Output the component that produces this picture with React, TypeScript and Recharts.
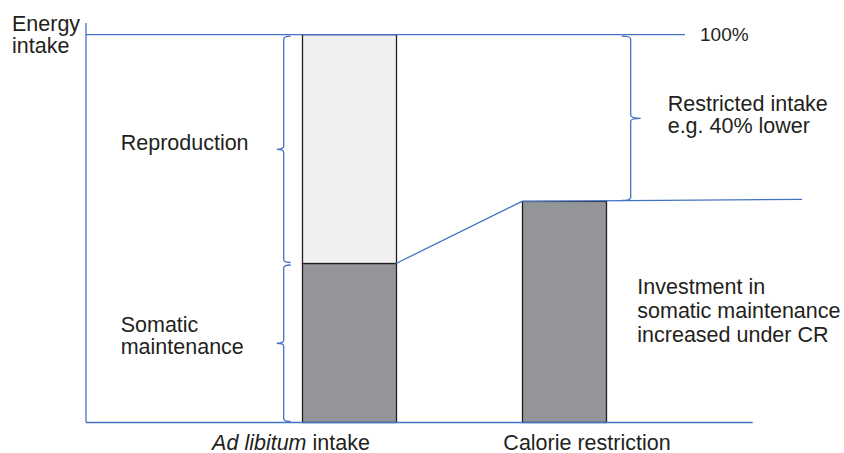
import { ComposedChart, Bar, XAxis, YAxis, ReferenceLine } from 'recharts';

const CATEGORIES = ['Ad libitum intake', 'Calorie restriction'];
const SOMATIC = [41, 57];
const REPRODUCTION = [59, 0];
const FULL_INTAKE = 100;
const Y_MAX = 103;

const data = CATEGORIES.map((name, i) => ({
  name,
  somatic: SOMATIC[i],
  reproduction: REPRODUCTION[i],
}));

const BLUE = '#4472c4';
const INK = '#231f20';
const FONT = '"Liberation Sans", Arial, sans-serif';
const FS = 21.5;
const BAR_W = [94, 84];
const TICK_DX = [-58, 23];

// bar with per-category width, centred on the band
const barShape = (fill: string) => (p: any) => {
  const { x, y, width, height } = p;
  if (!height || height <= 0) return <g />;
  const idx = Math.max(0, CATEGORIES.indexOf(p.payload?.name));
  const w = BAR_W[idx];
  return (
    <rect
      x={x + (width - w) / 2}
      y={y}
      width={w}
      height={height}
      fill={fill}
      stroke={INK}
      strokeWidth={1.3}
    />
  );
};

const textLines = (x: number, y: number, lines: string[], lh: number, anchor = 'start', fs = FS) => (
  <text x={x} y={y} fill={INK} fontSize={fs} fontFamily={FONT} textAnchor={anchor}>
    {lines.map((l, i) => (
      <tspan key={i} x={x} dy={i === 0 ? 0 : lh}>
        {l}
      </tspan>
    ))}
  </text>
);

// straight annotation line, ends nudged in pixels
const lineShape = (dx1: number, dy1: number, dx2: number, dy2: number, label?: (x2: number, y2: number) => any) => (p: any) => {
  const xa = Math.min(p.x1, p.x2);
  const xb = Math.max(p.x1, p.x2);
  const ya = p.x1 <= p.x2 ? p.y1 : p.y2;
  const yb = p.x1 <= p.x2 ? p.y2 : p.y1;
  const X1 = xa + dx1, Y1 = ya + dy1, X2 = xb + dx2, Y2 = yb + dy2;
  return (
    <g>
      <line x1={X1} y1={Y1} x2={X2} y2={Y2} stroke={BLUE} strokeWidth={1.3} />
      {label ? label(X2, Y2) : null}
    </g>
  );
};

// curly brace along a vertical segment; dir -1 = tip points left
const braceShape = (dx: number, dir: number, hook: number, tip: number, lines: string[], tx: number, ty: number, lh: number) => (p: any) => {
  const x = (p.x1 + p.x2) / 2 + dx;
  const ya = Math.min(p.y1, p.y2) + 1.5;
  const yb = Math.max(p.y1, p.y2) - 1;
  const ym = (ya + yb) / 2;
  const r = 3;
  const d = [
    `M ${x - dir * hook} ${ya}`,
    `Q ${x} ${ya} ${x} ${ya + r}`,
    `L ${x} ${ym - r}`,
    `Q ${x} ${ym} ${x + dir * tip} ${ym}`,
    `Q ${x} ${ym} ${x} ${ym + r}`,
    `L ${x} ${yb - r}`,
    `Q ${x} ${yb} ${x - dir * hook} ${yb}`,
  ].join(' ');
  return (
    <g>
      <path d={d} fill="none" stroke={BLUE} strokeWidth={1.3} />
      {textLines(x + tx, ym + ty, lines, lh)}
    </g>
  );
};

const textShape = (dx: number, dy: number, lines: string[], lh: number) => (p: any) => {
  const x = (p.x1 + p.x2) / 2 + dx;
  const ym = (p.y1 + p.y2) / 2 + dy;
  return textLines(x, ym, lines, lh);
};

// axis title placed left of the y axis top
const axisTitleShape = (p: any) => {
  const x = Math.min(p.x1, p.x2);
  const y = (p.y1 + p.y2) / 2;
  return textLines(x - 74, y + 8, ['Energy', 'intake'], 22);
};

const CategoryTick = (props: any) => {
  const { x, y, payload, index } = props;
  const value: string = payload.value;
  const idx = CATEGORIES.indexOf(value);
  const dx = TICK_DX[idx >= 0 ? idx : index] ?? 0;
  const italic = 'Ad libitum';
  return (
    <text x={x + dx} y={y + 27.5} fill={INK} fontSize={FS} fontFamily={FONT} textAnchor="middle">
      {value.startsWith(italic) ? (
        <>
          <tspan fontStyle="italic">{italic}</tspan>
          <tspan>{value.slice(italic.length)}</tspan>
        </>
      ) : (
        value
      )}
    </text>
  );
};

export default function App() {
  const [adLib, cr] = CATEGORIES;
  return (
    <div style={{ position: 'absolute', left: 0, top: 0, width: 844, height: 453, background: '#fff' }}>
      <ComposedChart
        width={844}
        height={453}
        data={data}
        margin={{ top: 23, right: 91.3, bottom: 0, left: 0 }}
        barCategoryGap={0}
      >
        <XAxis
          dataKey="name"
          height={30.5}
          padding={{ left: 155.5, right: 81.2 }}
          axisLine={{ stroke: BLUE, strokeWidth: 1.3 }}
          tickLine={false}
          tickSize={0}
          tickMargin={0}
          tick={<CategoryTick />}
          interval={0}
        />
        <YAxis
          width={86}
          domain={[0, Y_MAX]}
          ticks={[]}
          tick={false}
          tickLine={false}
          axisLine={{ stroke: BLUE, strokeWidth: 1.3 }}
        />
        <Bar dataKey="somatic" stackId="a" barSize={94} shape={barShape('#939598')} isAnimationActive={false} />
        <Bar dataKey="reproduction" stackId="a" barSize={94} shape={barShape('#f0f0f0')} isAnimationActive={false} />

        <ReferenceLine y={Y_MAX} ifOverflow="visible" shape={axisTitleShape} />
        <ReferenceLine
          y={FULL_INTAKE}
          ifOverflow="visible"
          shape={lineShape(0, 0, -67.7, 0, (x2, y2) => textLines(x2 + 15, y2 + 6, ['100%'], 20, 'start', 19))}
        />
        <ReferenceLine
          segment={[{ x: cr, y: SOMATIC[1] }, { x: cr, y: SOMATIC[1] }]}
          ifOverflow="visible"
          shape={lineShape(-42, 0, 238, -2)}
        />
        <ReferenceLine
          segment={[{ x: adLib, y: SOMATIC[0] }, { x: cr, y: SOMATIC[1] }]}
          ifOverflow="visible"
          shape={lineShape(47, 0, -42, 0)}
        />
        <ReferenceLine
          segment={[{ x: adLib, y: FULL_INTAKE }, { x: adLib, y: SOMATIC[0] }]}
          ifOverflow="visible"
          shape={braceShape(-65.3, -1, 7, 7, ['Reproduction'], -163, 1, 22)}
        />
        <ReferenceLine
          segment={[{ x: adLib, y: SOMATIC[0] }, { x: adLib, y: 0 }]}
          ifOverflow="visible"
          shape={braceShape(-65.3, -1, 7, 7, ['Somatic', 'maintenance'], -163, -11, 22)}
        />
        <ReferenceLine
          segment={[{ x: cr, y: FULL_INTAKE }, { x: cr, y: SOMATIC[1] }]}
          ifOverflow="visible"
          shape={braceShape(66.7, 1, 9, 10, ['Restricted intake', 'e.g. 40% lower'], 37, -7, 22)}
        />
        <ReferenceLine
          segment={[{ x: cr, y: SOMATIC[1] }, { x: cr, y: 0 }]}
          ifOverflow="visible"
          shape={textShape(73.3, -17.7, ['Investment in', 'somatic maintenance', 'increased under CR'], 24)}
        />
      </ComposedChart>
    </div>
  );
}
